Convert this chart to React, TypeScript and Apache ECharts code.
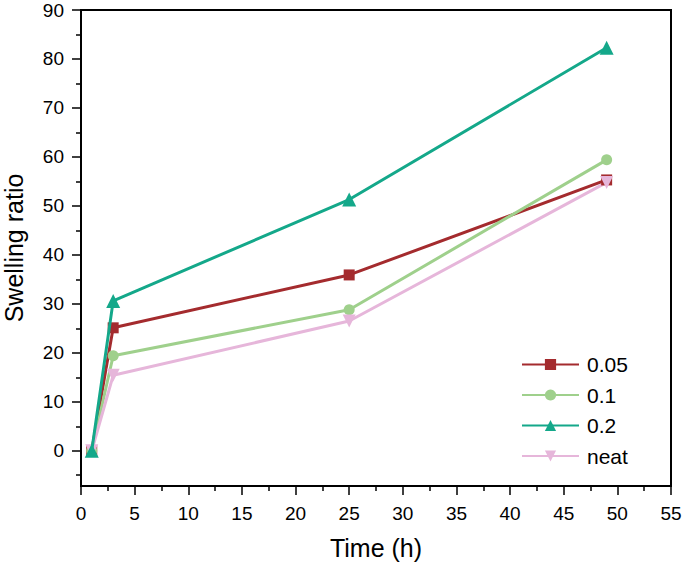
import React, { useEffect, useRef } from "react";
import * as echarts from "echarts";

const times = [1, 3, 25, 49];
const s005 = [0, 25.1, 35.9, 55.3];
const s01 = [0, 19.4, 28.8, 59.4];
const s02 = [0, 30.6, 51.3, 82.3];
const sNeat = [0, 15.4, 26.5, 54.8];
const seriesNames = ["0.05", "0.1", "0.2", "neat"];
const colors = ["#a42b2e", "#9fd08c", "#14a88a", "#e6b6da"];
const symbols = ["rect", "circle", "triangle", "path://M0,0 L10,0 L5,9 Z"];
const symbolSizes = [11, 11, 14, 13];
const yMajor = [0, 10, 20, 30, 40, 50, 60, 70, 80, 90];
const yMinor = [-5, 5, 15, 25, 35, 45, 55, 65, 75, 85];

const FONT = "'Liberation Sans', Arial, sans-serif";

export default function App() {
  const ref = useRef<HTMLDivElement>(null);
  useEffect(() => {
    if (!ref.current) return;
    const chart = echarts.init(ref.current, undefined, { renderer: "svg" });
    const all = [s005, s01, s02, sNeat];
    chart.setOption({
      animation: false,
      textStyle: { fontFamily: FONT },
      grid: {
        left: 81,
        right: 14,
        top: 10,
        bottom: 77,
        outerBoundsMode: "none",
        containLabel: false,
        show: true,
        borderColor: "#000",
        borderWidth: 2,
        backgroundColor: "transparent",
      },
      legend: {
        orient: "vertical",
        left: 521,
        top: 354,
        padding: 0,
        itemWidth: 57,
        itemHeight: 14,
        itemGap: 9.5,
        textStyle: { fontSize: 21, color: "#000", fontFamily: FONT, padding: [0, 0, 0, 3] },
        data: seriesNames,
      },
      xAxis: {
        type: "value",
        min: 0,
        max: 55,
        interval: 5,
        name: "Time (h)",
        nameLocation: "middle",
        nameGap: 49,
        nameMoveOverlap: false,
        nameTextStyle: { fontSize: 25, color: "#000", fontFamily: FONT },
        axisLine: { onZero: false, lineStyle: { color: "#000", width: 2 } },
        axisTick: { inside: false, length: 9, lineStyle: { color: "#000", width: 1.5 } },
        minorTick: { show: true, splitNumber: 2, length: 5, lineStyle: { color: "#000", width: 1.5 } },
        axisLabel: { fontSize: 19, color: "#000", margin: 18, fontFamily: FONT, hideOverlap: false },
        splitLine: { show: false },
      },
      yAxis: [
        {
          type: "value",
          min: -7.2,
          max: 90,
          name: "Swelling ratio",
          nameLocation: "middle",
          nameGap: 55,
          nameMoveOverlap: false,
          nameTextStyle: { fontSize: 25, color: "#000", fontFamily: FONT },
          axisLine: { onZero: false, lineStyle: { color: "#000", width: 2 } },
          axisTick: { inside: false, length: 9, customValues: yMajor, lineStyle: { color: "#000", width: 1.5 } },
          axisLabel: { fontSize: 19, color: "#000", margin: 17, customValues: yMajor, fontFamily: FONT },
          splitLine: { show: false },
        },
        {
          type: "value",
          min: -7.2,
          max: 90,
          position: "left",
          axisLine: { show: false, onZero: false },
          axisTick: { show: true, inside: false, length: 5, customValues: yMinor, lineStyle: { color: "#000", width: 1.5 } },
          axisLabel: { show: false, customValues: yMinor },
          splitLine: { show: false },
        },
      ],
      series: seriesNames.map((name, i) => ({
        name,
        type: "line",
        yAxisIndex: 0,
        data: times.map((t, j) => [t, all[i][j]]),
        symbol: symbols[i],
        symbolSize: symbolSizes[i],
        showAllSymbol: true,
        color: colors[i],
        lineStyle: { color: colors[i], width: 3 },
        itemStyle: { color: colors[i] },
        z: i === 2 ? 5 : 3,
      })),
    });
    return () => chart.dispose();
  }, []);
  return <div ref={ref} style={{ width: 685, height: 563, position: "absolute", left: 0, top: 0 }} />;
}
